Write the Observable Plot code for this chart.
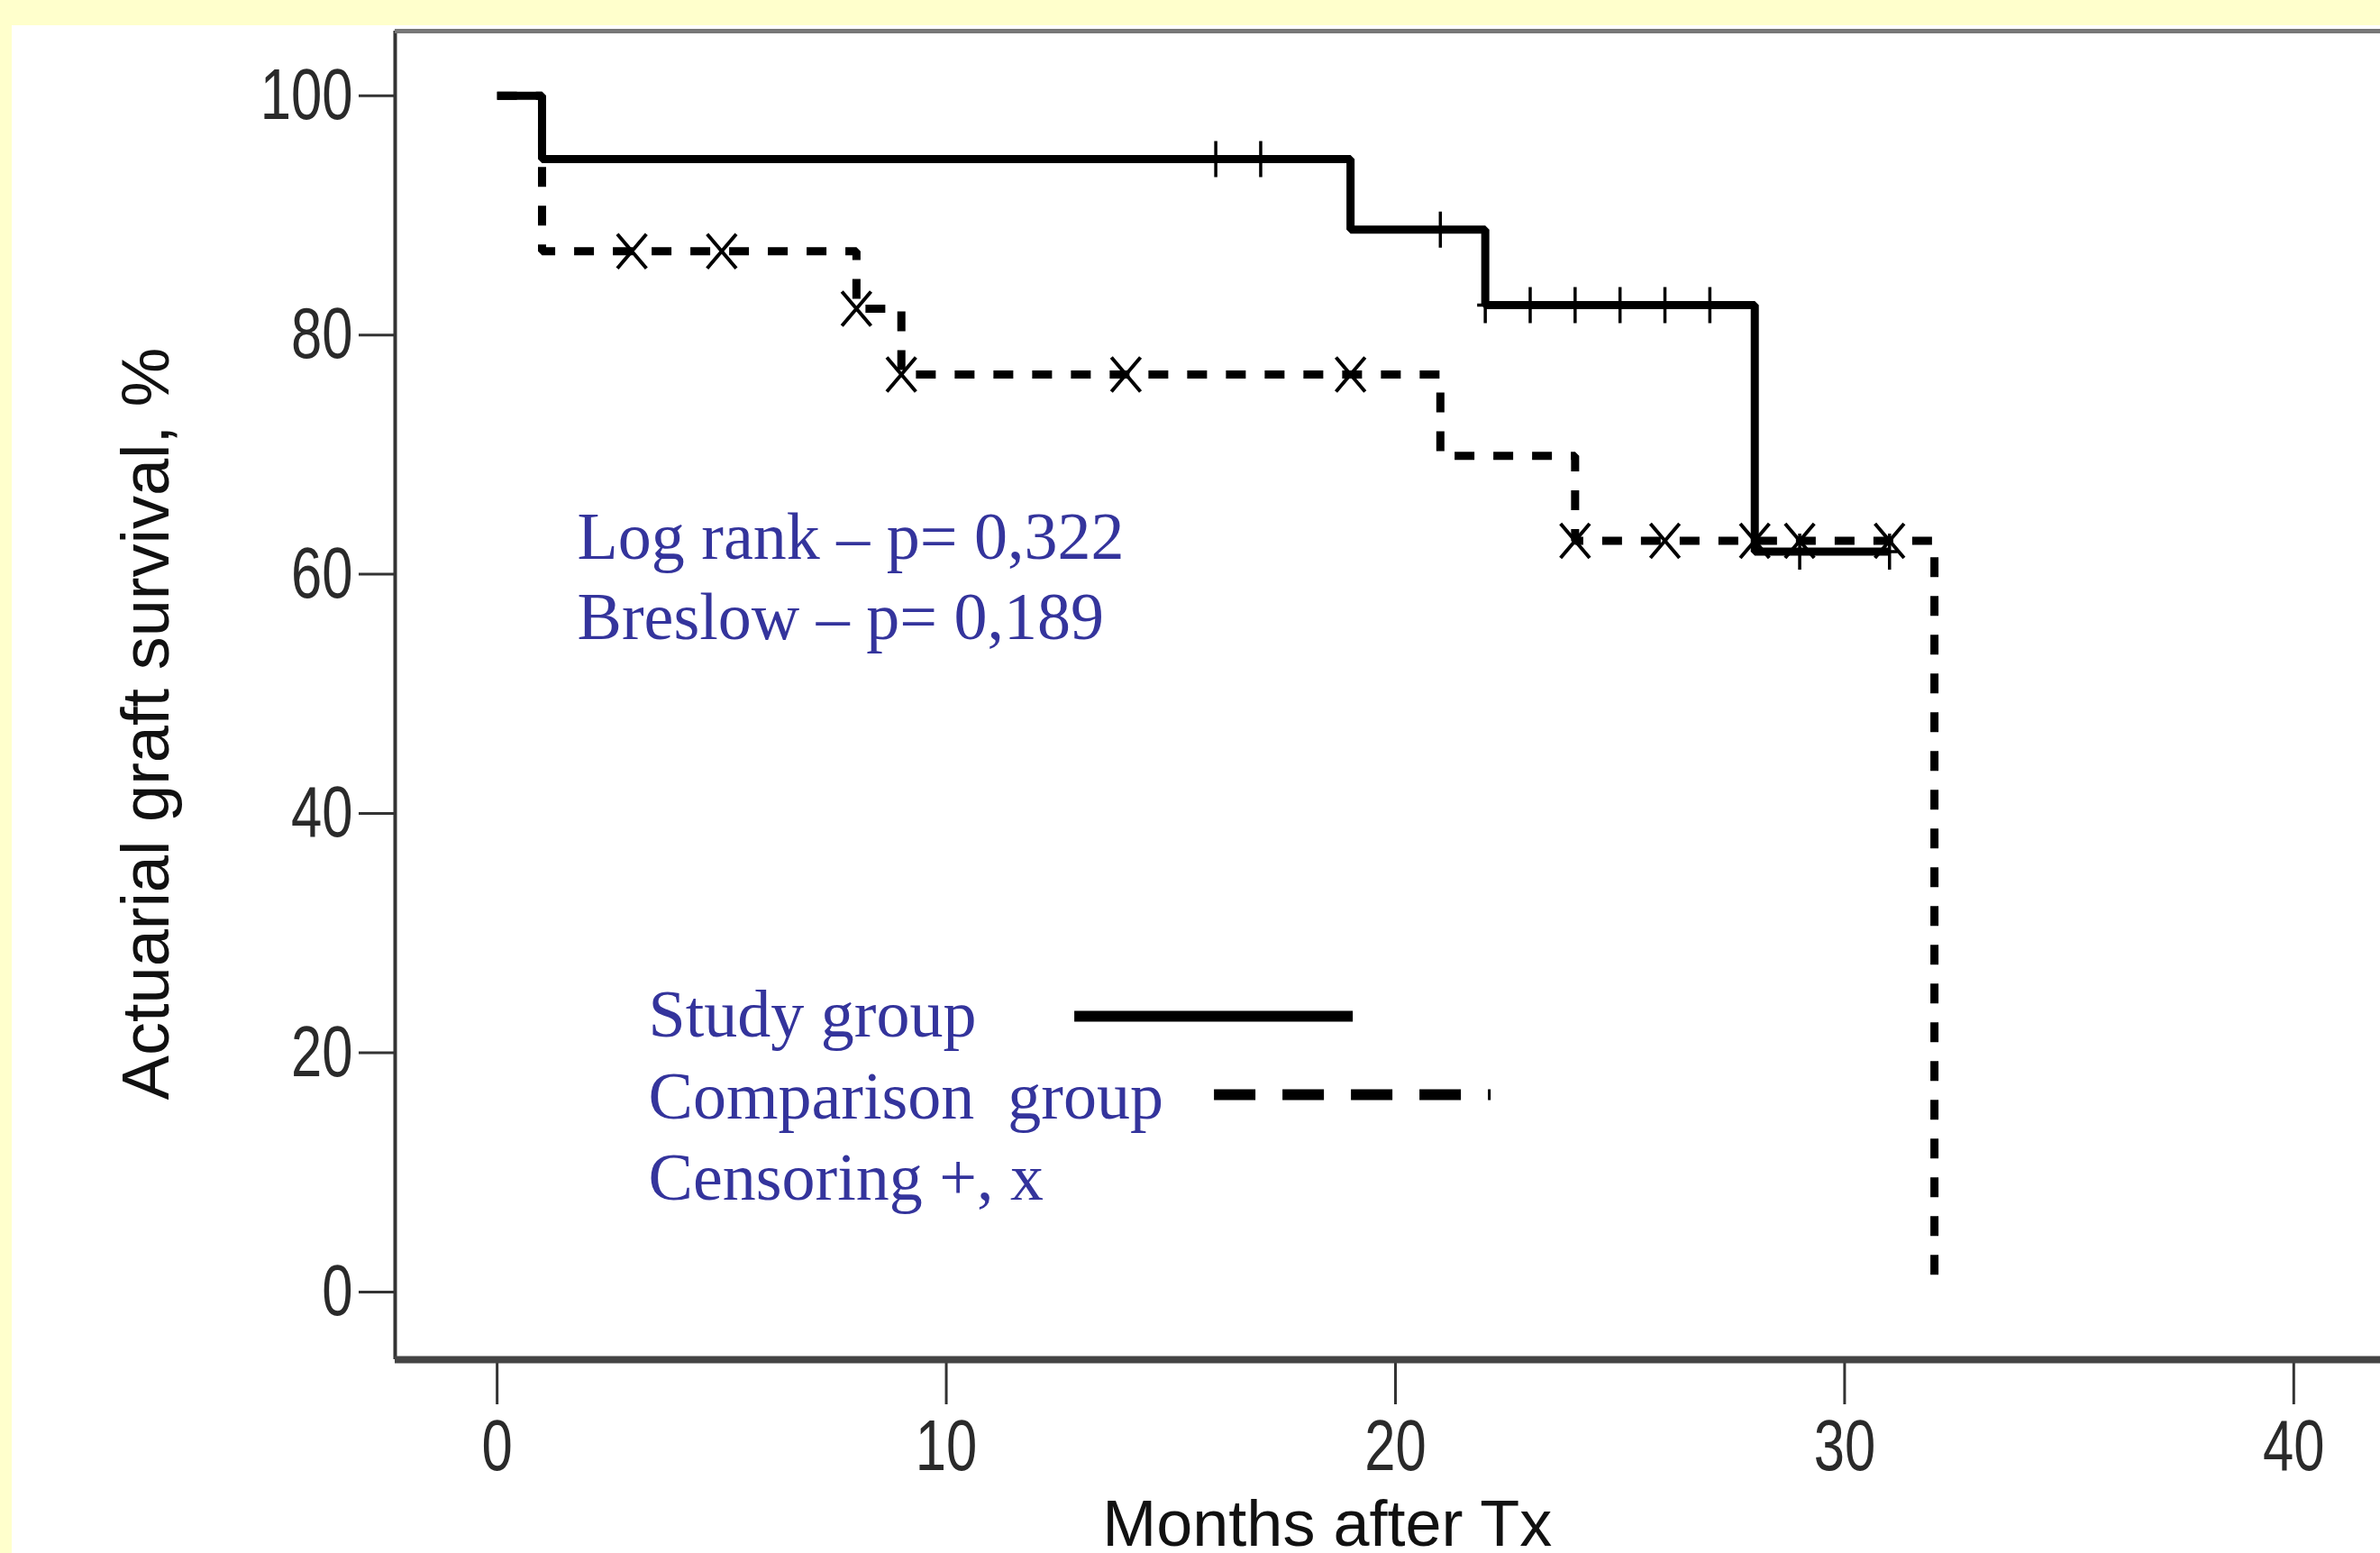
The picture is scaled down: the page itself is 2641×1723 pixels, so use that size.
<!DOCTYPE html>
<html><head><meta charset="utf-8">
<script src="https://cdn.jsdelivr.net/npm/d3@7"></script>
<script src="https://cdn.jsdelivr.net/npm/@observablehq/plot@0.6"></script>
<style>
html,body{margin:0;padding:0;background:#FFFFCC;overflow:hidden;width:2641px;height:1723px;}
#panel{position:absolute;left:13px;top:28px;right:0;bottom:0;background:#fff;}
#chart{position:absolute;left:0;top:0;}
</style></head><body><div id="panel"></div><div id="chart"></div>
<script>
// ---- data ----
const studyTimes = [0, 1, 19, 22, 28, 31];
const studySurvival = [100, 94.7, 88.8, 82.5, 61.9, 61.9];
const comparisonTimes = [0, 1, 8, 9, 21, 24, 32];
const comparisonSurvival = [100, 87.0, 82.2, 76.7, 69.9, 62.8, 0];
const studyCensorTimes = [16, 17, 21, 22, 23, 24, 25, 26, 27, 29, 31];
const comparisonCensorTimes = [3, 5, 8, 9, 14, 19, 24, 26, 28, 29, 31];
const xTicks = [0, 10, 20, 30, 40];
const yTicks = [0, 20, 40, 60, 80, 100];
const statsLines = ["Log rank – p= 0,322", "Breslow – p= 0,189"];
const legendLabels = ["Study group", "Comparison\u00a0 group", "Censoring +, x"];
const xTitle = "Months after Tx";
const yTitle = "Actuarial graft survival, %";

// ---- helpers ----
function survivalAt(times, surv, t) {
  let v = surv[0];
  for (let i = 0; i < times.length; i++) if (times[i] <= t) v = surv[i];
  return v;
}
const study = studyTimes.map((t, i) => ({t, s: studySurvival[i]}));
const comparison = comparisonTimes.map((t, i) => ({t, s: comparisonSurvival[i]}));
const studyCensors = studyCensorTimes.map(t => ({t, s: survivalAt(studyTimes, studySurvival, t)}));
const comparisonCensors = comparisonCensorTimes.map(t => ({t, s: survivalAt(comparisonTimes, comparisonSurvival, t)}));

const tallPlus = {draw(ctx, size) {
  const r = Math.sqrt(size / Math.PI);
  ctx.moveTo(0, -r); ctx.lineTo(0, r);
  ctx.moveTo(-0.45 * r, 0); ctx.lineTo(0.45 * r, 0);
}};
const tallTimes = {draw(ctx, size) {
  const r = Math.sqrt(size / Math.PI), w = 0.85 * r;
  ctx.moveTo(-w, -r); ctx.lineTo(w, r);
  ctx.moveTo(w, -r); ctx.lineTo(-w, r);
}};

const xDomain = [-2.27, 41.93];
const yDomain = [-5.65, 105.4];
const sans = "'Liberation Sans',Arial,sans-serif";
const serif = "'Liberation Serif','Times New Roman',serif";
const blue = "#34349c";

const chart = Plot.plot({
  width: 2641, height: 1723,
  marginLeft: 438, marginRight: 0, marginTop: 34, marginBottom: 215,
  style: {background: "transparent", color: "#222", fontFamily: sans},
  x: {domain: xDomain},
  y: {domain: yDomain},
  marks: [
    Plot.axisX({ticks: xTicks, tickSize: 50, tickPadding: 16, strokeWidth: 3, stroke: "#333", fontSize: 80, fontFamily: sans, fill: "#2a2a2a", label: null}),
    Plot.axisY({ticks: yTicks, tickSize: 40, tickPadding: 7, strokeWidth: 3, stroke: "#333", fontSize: 80, fontFamily: sans, fill: "#2a2a2a", label: null}),
    Plot.ruleX([xDomain[0]], {stroke: "#333", strokeWidth: 4}),
    Plot.ruleY([yDomain[1]], {stroke: "#777", strokeWidth: 5}),
    Plot.ruleY([yDomain[0]], {stroke: "#444", strokeWidth: 8}),
    Plot.line(comparison, {x: "t", y: "s", curve: "step-after", stroke: "#000", strokeWidth: 9,
      strokeDasharray: "22,21", strokeLinecap: "butt", strokeLinejoin: "miter"}),
    Plot.line(study, {x: "t", y: "s", curve: "step-after", stroke: "#000", strokeWidth: 9,
      strokeLinecap: "butt", strokeLinejoin: "miter"}),
    Plot.dot(comparisonCensors, {x: "t", y: "s", symbol: tallTimes, r: 19, fill: "none", stroke: "#000", strokeWidth: 4}),
    Plot.dot(studyCensors, {x: "t", y: "s", symbol: tallPlus, r: 20, fill: "none", stroke: "#000", strokeWidth: 3.5}),
    // statistics annotation
    Plot.text(statsLines, {x: () => 1.785, y: (d, i) => 61.27 - i * 6.7, text: d => d,
      textAnchor: "start", lineAnchor: "bottom", fontSize: 74, fontFamily: serif, fill: blue}),
    // legend
    Plot.text(legendLabels, {x: () => 3.37, y: (d, i) => 21.33 - i * 6.82, text: d => d,
      textAnchor: "start", lineAnchor: "bottom", fontSize: 74, fontFamily: serif, fill: blue}),
    Plot.ruleY([23.06], {x1: 12.86, x2: 19.06, stroke: "#000", strokeWidth: 12}),
    Plot.ruleY([16.5], {x1: 15.97, x2: 22.13, stroke: "#000", strokeWidth: 12, strokeDasharray: "46,30"}),
    // axis titles
    Plot.text([yTitle], {frameAnchor: "left", y: () => 47.5, text: d => d, rotate: -90, dx: -275,
      textAnchor: "middle", lineAnchor: "middle", fontSize: 74, fontFamily: sans, fill: "#111"}),
    Plot.text([xTitle], {frameAnchor: "bottom", x: () => 18.48, text: d => d, dy: 206,
      textAnchor: "middle", lineAnchor: "bottom", fontSize: 72, fontFamily: sans, fill: "#111"})
  ]
});
document.getElementById("chart").appendChild(chart);

// condensed look of the tick labels (narrow font in the reference)
d3.select(chart).selectAll('g[aria-label$="tick label"] text').each(function () {
  const w = this.getComputedTextLength();
  if (w > 0) {
    this.setAttribute("textLength", (w * 0.77).toFixed(1));
    this.setAttribute("lengthAdjust", "spacingAndGlyphs");
  }
});
</script></body></html>
